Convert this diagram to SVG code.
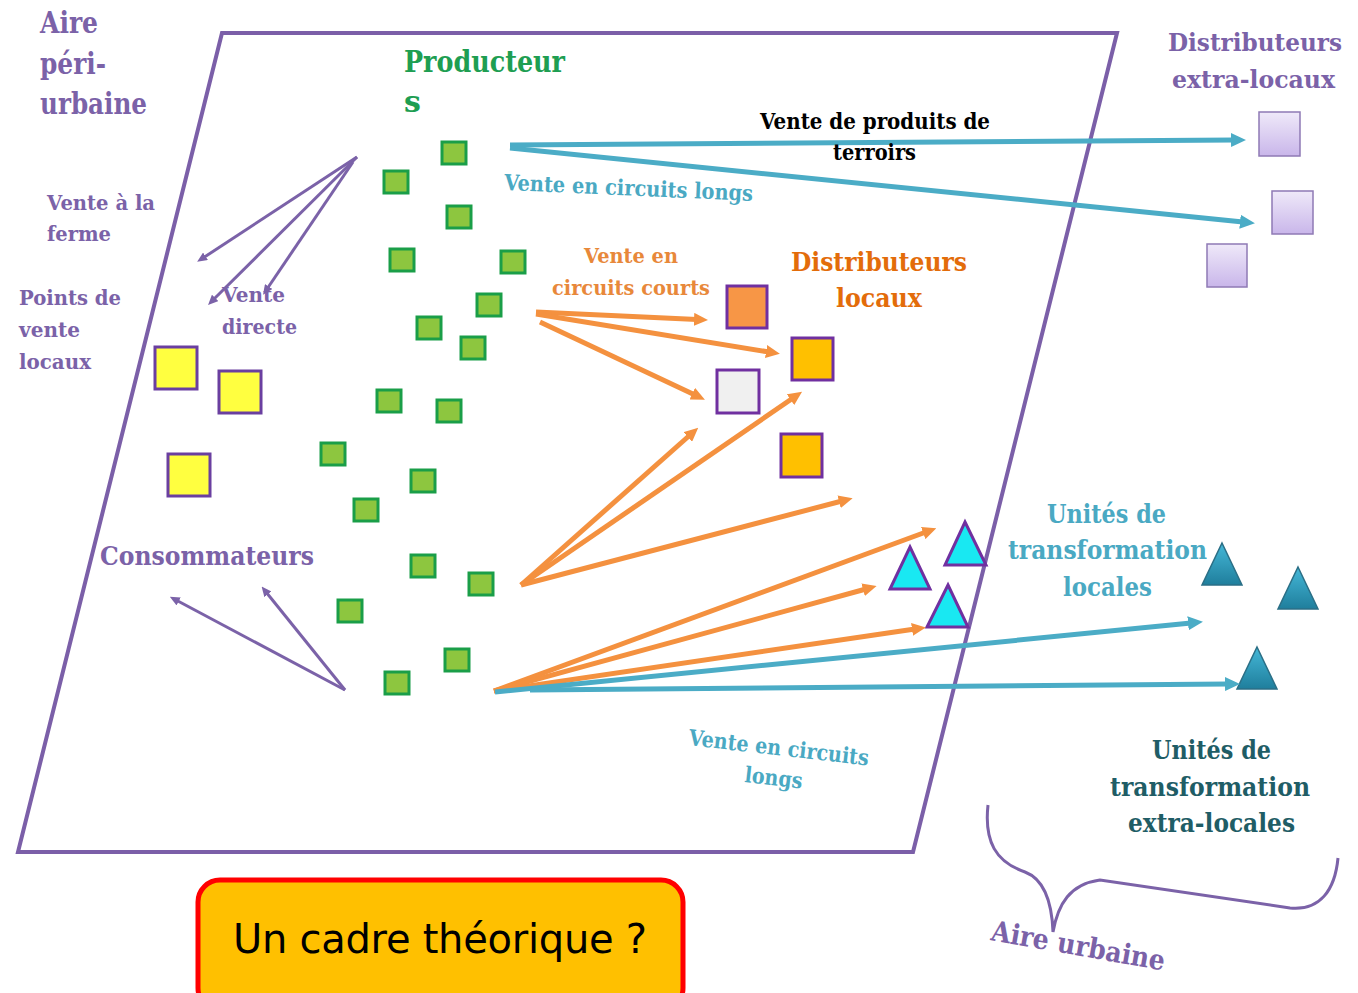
<svg xmlns="http://www.w3.org/2000/svg" width="1358" height="993" viewBox="0 0 1358 993">
<style>
text.t{font-family:'DejaVu Serif','Liberation Serif',serif;font-weight:700}
.pu{fill:#7b62a8}
.gr{fill:#1e9e52}
.or{fill:#e8883a}
.od{fill:#e36c0a}
.te{fill:#4aa9c3}
.dt{fill:#1f5d66}
.bk{fill:#000}
.gsq{fill:#8dc63f;stroke:#1a9e48;stroke-width:3}
.ysq{fill:#ffff40;stroke:#6a3fa0;stroke-width:3}
.dsq{stroke:#7030a0;stroke-width:3}
.xsq{fill:url(#lav);stroke:#8f7ab5;stroke-width:1.5}
.ctr{fill:#19e8f2;stroke:#7030a0;stroke-width:3}
.xtr{fill:url(#tealg);stroke:#2b6f86;stroke-width:1.5}
.la{stroke:#4bacc6;stroke-width:5;fill:none;marker-end:url(#mt)}
.lo{stroke:#f4913f;stroke-width:5;fill:none;marker-end:url(#mo)}
.lp{stroke:#7b62a8;stroke-width:3;fill:none;marker-end:url(#mp)}
</style>
<defs>
<linearGradient id="lav" x1="0" y1="0" x2="0" y2="1"><stop offset="0" stop-color="#efe9f9"/><stop offset="1" stop-color="#c9b6ea"/></linearGradient>
<linearGradient id="tealg" x1="0" y1="0" x2="0" y2="1"><stop offset="0" stop-color="#45b8d8"/><stop offset="1" stop-color="#1f7e9c"/></linearGradient>
<marker id="mt" markerUnits="userSpaceOnUse" markerWidth="15" markerHeight="14" refX="3" refY="7" orient="auto"><path d="M0,0 L15,7 L0,14 z" fill="#4bacc6"/></marker>
<marker id="mo" markerUnits="userSpaceOnUse" markerWidth="14" markerHeight="13" refX="3" refY="6.5" orient="auto"><path d="M0,0 L14,6.5 L0,13 z" fill="#f4913f"/></marker>
<marker id="mp" markerUnits="userSpaceOnUse" markerWidth="10" markerHeight="9" refX="3" refY="4.5" orient="auto"><path d="M0,0 L10,4.5 L0,9 z" fill="#7b62a8"/></marker>
</defs>
<rect width="1358" height="993" fill="#fff"/>

<g id="aire-periurbaine">
<polygon points="222,33 1117,33 913,852 18,852" fill="none" stroke="#7b5fa8" stroke-width="4"/>
<text class="t pu" font-size="29" x="40" y="33" textLength="58" lengthAdjust="spacingAndGlyphs">Aire</text>
<text class="t pu" font-size="29" x="40" y="74" textLength="66" lengthAdjust="spacingAndGlyphs">péri-</text>
<text class="t pu" font-size="29" x="40" y="114" textLength="107" lengthAdjust="spacingAndGlyphs">urbaine</text>
</g>

<g id="producteurs">
<text class="t gr" font-size="30" x="404" y="72" textLength="161" lengthAdjust="spacingAndGlyphs">Producteur</text>
<text class="t gr" font-size="30" x="404" y="112">s</text>
<rect class="gsq" x="442" y="142" width="24" height="22"/>
<rect class="gsq" x="384" y="171" width="24" height="22"/>
<rect class="gsq" x="447" y="206" width="24" height="22"/>
<rect class="gsq" x="390" y="249" width="24" height="22"/>
<rect class="gsq" x="501" y="251" width="24" height="22"/>
<rect class="gsq" x="477" y="294" width="24" height="22"/>
<rect class="gsq" x="417" y="317" width="24" height="22"/>
<rect class="gsq" x="461" y="337" width="24" height="22"/>
<rect class="gsq" x="377" y="390" width="24" height="22"/>
<rect class="gsq" x="437" y="400" width="24" height="22"/>
<rect class="gsq" x="321" y="443" width="24" height="22"/>
<rect class="gsq" x="411" y="470" width="24" height="22"/>
<rect class="gsq" x="354" y="499" width="24" height="22"/>
<rect class="gsq" x="411" y="555" width="24" height="22"/>
<rect class="gsq" x="469" y="573" width="24" height="22"/>
<rect class="gsq" x="338" y="600" width="24" height="22"/>
<rect class="gsq" x="445" y="649" width="24" height="22"/>
<rect class="gsq" x="385" y="672" width="24" height="22"/>
</g>

<g id="points-de-vente">
<text class="t pu" font-size="20" x="19" y="305" textLength="102" lengthAdjust="spacingAndGlyphs">Points de</text>
<text class="t pu" font-size="20" x="19" y="337" textLength="61" lengthAdjust="spacingAndGlyphs">vente</text>
<text class="t pu" font-size="20" x="19" y="369" textLength="72" lengthAdjust="spacingAndGlyphs">locaux</text>
<rect class="ysq" x="155" y="347" width="42" height="42"/>
<rect class="ysq" x="219" y="371" width="42" height="42"/>
<rect class="ysq" x="168" y="454" width="42" height="42"/>
</g>

<g id="consommateurs">
<text class="t pu" font-size="26" x="100" y="565" textLength="214" lengthAdjust="spacingAndGlyphs">Consommateurs</text>
</g>

<g id="distributeurs-locaux">
<text class="t od" font-size="26" x="791" y="271" textLength="176" lengthAdjust="spacingAndGlyphs">Distributeurs</text>
<text class="t od" font-size="26" x="836" y="307" textLength="86" lengthAdjust="spacingAndGlyphs">locaux</text>
<rect class="dsq" x="727" y="286" width="40" height="42" fill="#f79646"/>
<rect class="dsq" x="792" y="338" width="41" height="42" fill="#ffc000"/>
<rect class="dsq" x="717" y="370" width="42" height="43" fill="#f0f0f0"/>
<rect class="dsq" x="781" y="434" width="41" height="43" fill="#ffc000"/>
</g>

<g id="distributeurs-extra-locaux">
<text class="t pu" font-size="24" x="1168" y="51" textLength="174" lengthAdjust="spacingAndGlyphs">Distributeurs</text>
<text class="t pu" font-size="25" x="1172" y="88" textLength="163" lengthAdjust="spacingAndGlyphs">extra-locaux</text>
<rect class="xsq" x="1259" y="112" width="41" height="44"/>
<rect class="xsq" x="1272" y="191" width="41" height="43"/>
<rect class="xsq" x="1207" y="244" width="40" height="43"/>
</g>

<g id="unites-locales">
<text class="t te" font-size="26" x="1047" y="523" textLength="119" lengthAdjust="spacingAndGlyphs">Unités de</text>
<text class="t te" font-size="26" x="1008" y="559" textLength="199" lengthAdjust="spacingAndGlyphs">transformation</text>
<text class="t te" font-size="26" x="1063" y="596" textLength="89" lengthAdjust="spacingAndGlyphs">locales</text>
<polygon class="ctr" points="910,547 930,589 890,589"/>
<polygon class="ctr" points="965,522 986,565 945,565"/>
<polygon class="ctr" points="948,585 968,627 927,627"/>
</g>

<g id="unites-extra-locales">
<text class="t dt" font-size="26" x="1152" y="759" textLength="119" lengthAdjust="spacingAndGlyphs">Unités de</text>
<text class="t dt" font-size="26" x="1110" y="796" textLength="200" lengthAdjust="spacingAndGlyphs">transformation</text>
<text class="t dt" font-size="26" x="1128" y="832" textLength="167" lengthAdjust="spacingAndGlyphs">extra-locales</text>
<polygon class="xtr" points="1222,543 1242,585 1202,585"/>
<polygon class="xtr" points="1298,567 1318,609 1278,609"/>
<polygon class="xtr" points="1257,647 1277,689 1237,689"/>
</g>

<g id="aire-urbaine">
<path d="M988,805 C984,842 996,862 1025,872 C1046,880 1052,905 1053,932 C1058,904 1070,884 1100,880 L1290,908 C1320,911 1335,890 1338,858" fill="none" stroke="#7b62a8" stroke-width="3"/>
<text class="t pu" font-size="28" x="990" y="940" textLength="176" lengthAdjust="spacingAndGlyphs" transform="rotate(10 990 940)">Aire urbaine</text>
</g>

<g id="connectors">
<line class="lp" x1="357" y1="157" x2="203" y2="258"/>
<line class="lp" x1="357" y1="157" x2="213" y2="300"/>
<line class="lp" x1="353" y1="162" x2="267" y2="289"/>
<line class="lp" x1="345" y1="690" x2="176" y2="600"/>
<line class="lp" x1="345" y1="690" x2="266" y2="592"/>
<line class="lo" x1="536" y1="312" x2="697" y2="319.5"/>
<line class="lo" x1="536" y1="314" x2="769" y2="352"/>
<line class="lo" x1="540" y1="322" x2="695" y2="395"/>
<line class="lo" x1="521" y1="585" x2="690" y2="435"/>
<line class="lo" x1="521" y1="585" x2="793" y2="398"/>
<line class="lo" x1="521" y1="585" x2="842" y2="501"/>
<line class="lo" x1="494" y1="691" x2="926" y2="532"/>
<line class="lo" x1="494" y1="691" x2="866" y2="589"/>
<line class="lo" x1="494" y1="691" x2="915" y2="629"/>
<line class="la" x1="510" y1="145" x2="1234" y2="140"/>
<line class="la" x1="510" y1="148" x2="1243" y2="222"/>
<line class="la" x1="495" y1="692" x2="1191" y2="623"/>
<line class="la" x1="530" y1="690" x2="1228" y2="684"/>
</g>

<g id="labels">
<text class="t bk" font-size="23" x="760" y="129" textLength="230" lengthAdjust="spacingAndGlyphs">Vente de produits de</text>
<text class="t bk" font-size="23" x="833" y="160" textLength="83" lengthAdjust="spacingAndGlyphs">terroirs</text>
<text class="t te" font-size="22" x="504" y="190" textLength="249" lengthAdjust="spacingAndGlyphs" transform="rotate(2.5 504 190)">Vente en circuits longs</text>
<text class="t pu" font-size="20" x="47" y="210" textLength="108" lengthAdjust="spacingAndGlyphs">Vente à la</text>
<text class="t pu" font-size="20" x="47" y="241" textLength="64" lengthAdjust="spacingAndGlyphs">ferme</text>
<text class="t pu" font-size="20" x="222" y="302" textLength="63" lengthAdjust="spacingAndGlyphs">Vente</text>
<text class="t pu" font-size="20" x="222" y="334" textLength="75" lengthAdjust="spacingAndGlyphs">directe</text>
<text class="t or" font-size="21" x="584" y="263" textLength="94" lengthAdjust="spacingAndGlyphs">Vente en</text>
<text class="t or" font-size="21" x="552" y="295" textLength="158" lengthAdjust="spacingAndGlyphs">circuits courts</text>
<text class="t te" font-size="22" x="688" y="745" textLength="181" lengthAdjust="spacingAndGlyphs" transform="rotate(6.5 688 745)">Vente en circuits</text>
<text class="t te" font-size="22" x="744" y="782" textLength="58" lengthAdjust="spacingAndGlyphs" transform="rotate(6.5 744 782)">longs</text>
</g>

<g id="cadre-theorique">
<rect x="198" y="880" width="485" height="130" rx="22" fill="#ffc000" stroke="#ff0000" stroke-width="5"/>
<text x="233" y="953" font-family="DejaVu Sans, Noto Sans, sans-serif" font-size="40" textLength="414" fill="#000">Un cadre théorique ?</text>
</g>
</svg>
